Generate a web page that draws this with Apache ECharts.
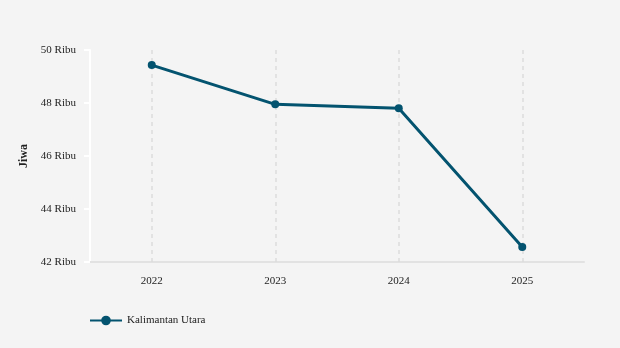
<!DOCTYPE html>
<html>
<head>
<meta charset="utf-8">
<script src="https://cdn.jsdelivr.net/npm/echarts@6/dist/echarts.min.js"></script>
<style>
html,body{margin:0;padding:0;background:#f4f4f4;}
#chart{width:620px;height:348px;}
</style>
</head>
<body>
<div id="chart"></div>
<script>
const categories = ['2022', '2023', '2024', '2025'];
const seriesName = 'Kalimantan Utara';
const values = [49.43, 47.95, 47.80, 42.57]; // ribu jiwa
const yTicks = [42, 44, 46, 48, 50];

const chart = echarts.init(document.getElementById('chart'));
const font = 'Liberation Serif, Times New Roman, serif';
chart.setOption({
  backgroundColor: '#f4f4f4',
  animation: false,
  textStyle: { fontFamily: font },
  grid: { left: 90, right: 36, top: 50, bottom: 86 },
  legend: {
    left: 84, top: 310,
    itemWidth: 32, itemHeight: 12,
    textStyle: { fontFamily: font, fontSize: 11, color: '#222' },
    data: [seriesName]
  },
  xAxis: {
    type: 'category',
    data: categories,
    boundaryGap: true,
    axisLine: { lineStyle: { color: '#e2e2e2', width: 2 } },
    axisTick: { show: false },
    axisLabel: { color: '#222', fontSize: 11, margin: 14, fontFamily: font },
    splitLine: { show: false }
  },
  yAxis: {
    type: 'value',
    min: yTicks[0], max: yTicks[yTicks.length - 1], interval: 2,
    name: 'Jiwa',
    nameLocation: 'middle',
    nameGap: 58,
    nameTextStyle: { fontFamily: font, fontWeight: 'bold', fontSize: 12, color: '#222' },
    axisLine: { show: true, lineStyle: { color: '#ffffff', width: 2 } },
    axisTick: { show: true, length: 6, lineStyle: { color: '#ffffff', width: 2 } },
    axisLabel: { color: '#222', fontSize: 11, margin: 14, fontFamily: font, formatter: '{value} Ribu' },
    splitLine: { show: false }
  },
  series: [{
    name: seriesName,
    type: 'line',
    data: values,
    symbol: 'circle',
    symbolSize: 8,
    z: 3,
    lineStyle: { color: '#03536f', width: 3 },
    itemStyle: { color: '#03536f' },
    markLine: {
      silent: true,
      symbol: 'none',
      label: { show: false },
      z: 1,
      lineStyle: { color: '#dcdcdc', type: [4, 4], width: 1.5 },
      emphasis: { disabled: true },
      data: categories.map(c => ({ xAxis: c }))
    }
  }]
});
</script>
</body>
</html>
